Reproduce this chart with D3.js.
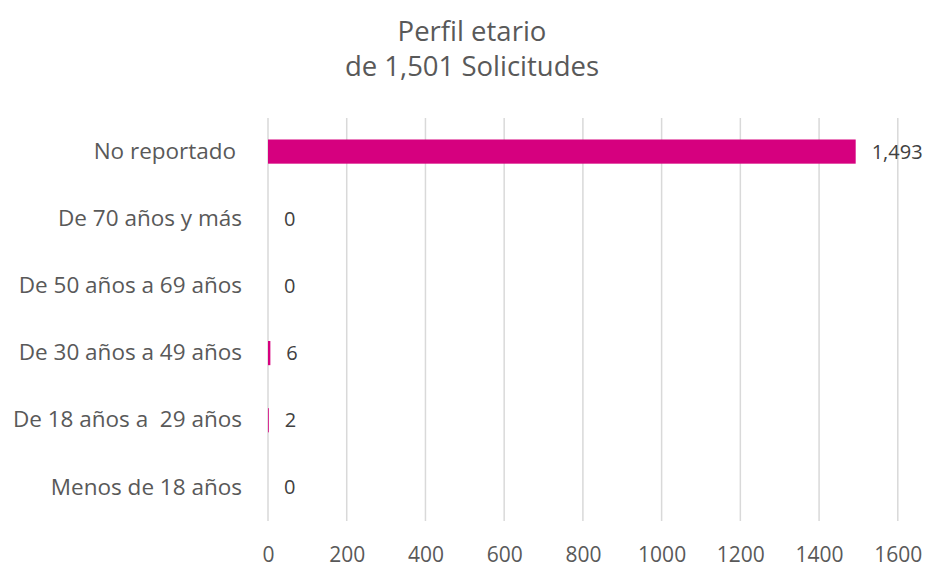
<!DOCTYPE html>
<html>
<head>
<meta charset="utf-8">
<script src="https://cdn.jsdelivr.net/npm/d3@7"></script>
<style>
  body { margin: 0; background: #fff; }
  text { font-family: "Open Sans", "Noto Sans", sans-serif; }
</style>
</head>
<body>
<svg id="drawing_region"></svg>
<script>
// data, top to bottom as drawn
const categories = ["No reportado ", "De 70 años y más", "De 50 años a 69 años",
                    "De 30 años a 49 años", "De 18 años a  29 años", "Menos de 18 años"];
const values = [1493, 0, 0, 6, 2, 0];
const xTicks = [0, 200, 400, 600, 800, 1000, 1200, 1400, 1600];
const titleLines = ["Perfil etario", "de 1,501 Solicitudes"];

const config = {
    width: 925,
    height: 567,
    margin: {top: 118, right: 27, bottom: 46, left: 268}
};

const svg = d3.select('#drawing_region')
    .attr('width', config.width)
    .attr('height', config.height);

const innerW = config.width - config.margin.left - config.margin.right;
const innerH = config.height - config.margin.top - config.margin.bottom;

const chart = svg.append('g')
    .attr('transform', `translate(${config.margin.left}, ${config.margin.top})`);

const x = d3.scaleLinear()
    .domain([0, 1600])
    .range([0, 629.8]);

const y = d3.scaleBand()
    .domain(categories)
    .range([0, innerH])
    .paddingInner(0.64)
    .paddingOuter(0.32);

// gridlines
chart.selectAll('.grid')
    .data(xTicks)
    .enter()
    .append('line')
    .attr('x1', d => x(d))
    .attr('x2', d => x(d))
    .attr('y1', 0)
    .attr('y2', innerH)
    .attr('stroke', '#d9d9d9')
    .attr('stroke-width', 1.5);

// x axis labels
const xAxis = d3.axisBottom(x).tickValues(xTicks).tickFormat(d3.format('d'))
    .tickSize(0).tickPadding(26);
const xg = chart.append('g')
    .attr('transform', `translate(0, ${innerH})`)
    .call(xAxis);
xg.select('.domain').remove();
xg.selectAll('text')
    .attr('fill', '#595959')
    .style('font-size', '21px');

// y axis labels
const yAxis = d3.axisLeft(y).tickSize(0).tickPadding(26);
const yg = chart.append('g').call(yAxis);
yg.select('.domain').remove();
yg.selectAll('text')
    .attr('fill', '#595959')
    .style('font-size', '22.5px')
    .style('white-space', 'pre')
    .attr('xml:space', 'preserve');

// bars
chart.selectAll('.bar')
    .data(values)
    .enter()
    .append('rect')
    .attr('x', x(0))
    .attr('y', (d, i) => y(categories[i]))
    .attr('width', d => x(d) - x(0))
    .attr('height', y.bandwidth())
    .attr('fill', '#d6007f');

// data labels
chart.selectAll('.lbl')
    .data(values)
    .enter()
    .append('text')
    .attr('x', d => x(d) + 16)
    .attr('y', (d, i) => y(categories[i]) + y.bandwidth() / 2)
    .attr('dy', '0.35em')
    .attr('fill', '#404040')
    .style('font-size', '20px')
    .text(d => d3.format(',')(d));

// title
svg.selectAll('.title')
    .data(titleLines)
    .enter()
    .append('text')
    .attr('x', 472)
    .attr('y', (d, i) => 41 + i * 35)
    .attr('text-anchor', 'middle')
    .attr('fill', '#595959')
    .style('font-size', '27.5px')
    .text(d => d);
</script>
</body>
</html>
